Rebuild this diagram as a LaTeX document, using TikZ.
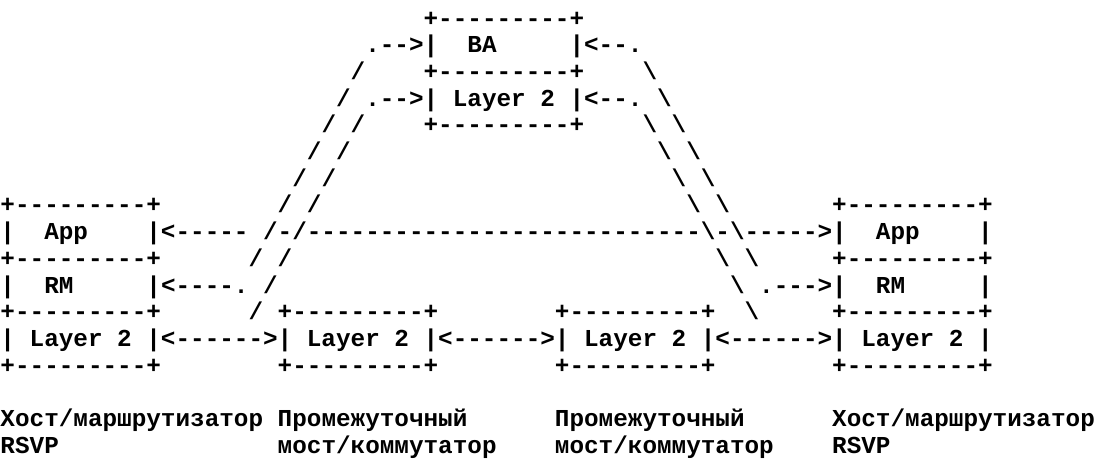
\documentclass[tikz,border=0pt]{standalone}
\usepackage{fontspec}
\setmonofont{Liberation Mono}
\begin{document}
\begin{tikzpicture}[x=6pt,y=-10.98pt,
  txt/.style={anchor=base west,inner sep=0pt,font=\ttfamily\bfseries\fontsize{10}{11}\selectfont}]
\useasboundingbox (0,-0.674) rectangle (75.73,16.674);

% bridge agent on top
\node[txt] (baTop) at (29,0.3) {+---------+};
\node[txt] (baInL) at (25,1.3) {.-->|};
\node[txt] (ba) at (32,1.3) {BA};
\node[txt] (baInR) at (39,1.3) {|<--.};
\node[txt] (baMid) at (29,2.3) {+---------+};
\node[txt] (baLay) at (25,3.3) {.-->| Layer 2 |<--.};
\node[txt] (baBot) at (29,4.3) {+---------+};

% slanted paths (row 8 is written out below)
\foreach \r in {2,...,7,9} {
  \node[txt] (outL\r) at (26-\r,\r+0.3) {/};
  \node[txt] (outR\r) at (42+\r,\r+0.3) {\textbackslash};
}
\foreach \r in {4,...,7,9,10,11} {
  \node[txt] (inL\r) at (28-\r,\r+0.3) {/};
  \node[txt] (inR\r) at (40+\r,\r+0.3) {\textbackslash};
}

% hosts
\node[txt] (hlTop) at (0,7.3) {+---------+};
\node[txt] (hrTop) at (57,7.3) {+---------+};
\node[txt] (hlApp) at (0,8.3) {|\ \ App\ \ \ \ |<-----};
\node[txt] (hrApp) at (18,8.3) {/-/---------------------------\textbackslash-\textbackslash----->|\ \ App\ \ \ \ |};
\node[txt] (hlMid) at (0,9.3) {+---------+};
\node[txt] (hrMid) at (57,9.3) {+---------+};
\node[txt] (hlRM) at (0,10.3) {|\ \ RM\ \ \ \ \ |<----.};
\node[txt] (hrRM) at (52,10.3) {.--->|\ \ RM\ \ \ \ \ |};
\foreach \c/\n in {0/a,19/b,38/c,57/d} {
  \node[txt] (top\n) at (\c,11.3) {+---------+};
  \node[txt] (bot\n) at (\c,13.3) {+---------+};
}
\node[txt] (layers) at (0,12.3) {| Layer 2 |<------>| Layer 2 |<------>| Layer 2 |<------>| Layer 2 |};

% captions
\node[txt] (capA) at (0,15.3) {Хост/маршрутизатор};
\node[txt] (capB) at (19,15.3) {Промежуточный};
\node[txt] (capC) at (38,15.3) {Промежуточный};
\node[txt] (capD) at (57,15.3) {Хост/маршрутизатор};
\node[txt] (subA) at (0,16.3) {RSVP};
\node[txt] (subB) at (19,16.3) {мост/коммутатор};
\node[txt] (subC) at (38,16.3) {мост/коммутатор};
\node[txt] (subD) at (57,16.3) {RSVP};

\end{tikzpicture}
\end{document}
